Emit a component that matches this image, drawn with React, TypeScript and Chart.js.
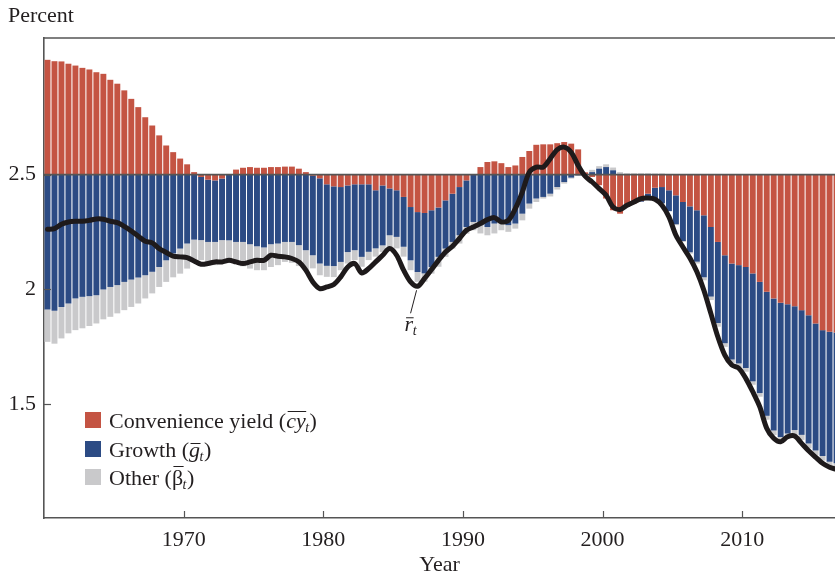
import React, { useEffect, useRef } from 'react';
import { Chart, registerables } from 'chart.js';

Chart.register(...registerables);

// ---------- data (semi-annual, starting 1960H1) ----------
const START_YEAR = 1960;
const STEP = 0.5;
const BASE = 2.5;

const convenienceYield = [
  0.500, 0.494, 0.493, 0.483, 0.475, 0.465, 0.458, 0.446, 0.439, 0.413,
  0.396, 0.367, 0.330, 0.294, 0.250, 0.214, 0.171, 0.127, 0.098, 0.070,
  0.045, 0.011, -0.010, -0.022, -0.025, -0.017, 0.003, 0.022, 0.030, 0.033,
  0.030, 0.030, 0.033, 0.033, 0.035, 0.035, 0.026, 0.011, -0.005, -0.016,
  -0.042, -0.051, -0.054, -0.047, -0.042, -0.042, -0.042, -0.068, -0.047, -0.060,
  -0.068, -0.097, -0.141, -0.163, -0.167, -0.155, -0.143, -0.112, -0.083, -0.054,
  -0.025, 0.000, 0.033, 0.055, 0.058, 0.050, 0.033, 0.040, 0.077, 0.103,
  0.130, 0.132, 0.132, 0.137, 0.142, 0.135, 0.110, 0.010, -0.010, -0.046,
  -0.104, -0.155, -0.170, -0.140, -0.125, -0.115, -0.083, -0.057, -0.054, -0.068,
  -0.090, -0.119, -0.138, -0.155, -0.177, -0.228, -0.293, -0.351, -0.387, -0.394,
  -0.402, -0.430, -0.467, -0.510, -0.539, -0.558, -0.564, -0.573, -0.590, -0.612,
  -0.648, -0.677, -0.684, -0.687,
];

const growth = [
  -0.587, -0.593, -0.576, -0.561, -0.539, -0.532, -0.529, -0.525, -0.500, -0.489,
  -0.481, -0.467, -0.457, -0.448, -0.438, -0.423, -0.402, -0.373, -0.343, -0.322,
  -0.300, -0.283, -0.275, -0.271, -0.268, -0.268, -0.286, -0.293, -0.293, -0.303,
  -0.312, -0.317, -0.303, -0.300, -0.293, -0.293, -0.307, -0.329, -0.346, -0.371,
  -0.355, -0.347, -0.326, -0.290, -0.287, -0.316, -0.294, -0.253, -0.261, -0.204,
  -0.203, -0.217, -0.232, -0.261, -0.263, -0.247, -0.215, -0.210, -0.210, -0.210,
  -0.203, -0.206, -0.220, -0.228, -0.213, -0.206, -0.220, -0.213, -0.170, -0.126,
  -0.104, -0.097, -0.083, -0.054, -0.032, -0.013, -0.003, 0.000, 0.011, 0.026,
  0.033, 0.019, 0.003, 0.000, 0.000, -0.003, -0.017, -0.055, -0.071, -0.091,
  -0.126, -0.170, -0.200, -0.224, -0.270, -0.303, -0.353, -0.383, -0.418, -0.428,
  -0.440, -0.470, -0.484, -0.540, -0.575, -0.584, -0.563, -0.539, -0.543, -0.559,
  -0.553, -0.548, -0.566, -0.570,
];

const otherFactor = [
  -0.141, -0.143, -0.137, -0.130, -0.138, -0.137, -0.130, -0.123, -0.130, -0.130,
  -0.123, -0.123, -0.119, -0.113, -0.101, -0.094, -0.087, -0.094, -0.104, -0.109,
  -0.109, -0.097, -0.087, -0.094, -0.101, -0.094, -0.099, -0.097, -0.106, -0.106,
  -0.104, -0.099, -0.099, -0.094, -0.087, -0.091, -0.091, -0.087, -0.057, -0.051,
  -0.048, -0.048, -0.036, -0.050, -0.043, -0.043, -0.036, -0.036, -0.029, -0.051,
  -0.050, -0.043, -0.043, -0.043, -0.036, -0.029, -0.043, -0.036, -0.029, -0.036,
  -0.029, -0.036, -0.036, -0.036, -0.043, -0.036, -0.029, -0.022, -0.029, -0.022,
  -0.015, -0.007, -0.012, -0.011, -0.007, -0.004, -0.002, 0.000, 0.010, 0.011,
  0.012, 0.012, 0.008, 0.006, 0.006, 0.006, 0.006, 0.005, 0.005, 0.003,
  -0.004, -0.004, -0.006, -0.008, -0.013, -0.015, -0.016, -0.016, -0.017, -0.017,
  -0.016, -0.015, -0.016, -0.017, -0.020, -0.020, -0.021, -0.022, -0.022, -0.021,
  -0.020, -0.020, -0.020, -0.021,
];

const rBar = [
  2.262, 2.265, 2.284, 2.294, 2.297, 2.297, 2.301, 2.307, 2.306, 2.297,
  2.291, 2.275, 2.255, 2.232, 2.210, 2.203, 2.178, 2.161, 2.145, 2.142,
  2.139, 2.124, 2.110, 2.113, 2.120, 2.120, 2.127, 2.120, 2.113, 2.120,
  2.127, 2.127, 2.149, 2.145, 2.142, 2.135, 2.120, 2.084, 2.033, 2.004,
  2.011, 2.022, 2.055, 2.098, 2.113, 2.072, 2.091, 2.120, 2.149, 2.178,
  2.149, 2.084, 2.033, 2.014, 2.048, 2.087, 2.127, 2.163, 2.188, 2.222,
  2.258, 2.272, 2.287, 2.304, 2.313, 2.294, 2.301, 2.352, 2.424, 2.511,
  2.533, 2.533, 2.570, 2.609, 2.620, 2.598, 2.540, 2.493, 2.468, 2.439,
  2.410, 2.359, 2.348, 2.367, 2.381, 2.396, 2.398, 2.393, 2.367, 2.316,
  2.236, 2.185, 2.137, 2.077, 1.997, 1.896, 1.794, 1.714, 1.671, 1.657,
  1.613, 1.555, 1.490, 1.396, 1.352, 1.337, 1.359, 1.362, 1.330, 1.298,
  1.270, 1.243, 1.226, 1.217,
];

const xTickYears = [1970, 1980, 1990, 2000, 2010];
const yTickValues = [1.5, 2, 2.5];
const X_MIN = 1960;
const X_MAX = 2016.64;
const Y_MIN = 1.005;
const Y_MAX = 3.095;

const RED = '#C45443';
const BLUE = '#2C4B84';
const GRAY = '#C9C9CB';
const LINE = '#1E1A1B';
const AXIS = '#555555';
const TEXT = '#231F20';
const FONT = '"Liberation Serif", "Times New Roman", serif';

const periodCenters = convenienceYield.map((_, i) => START_YEAR + i * STEP + STEP / 2);

function buildStacks() {
  const cyR: any[] = [];
  const gR: any[] = [];
  const oR: any[] = [];
  periodCenters.forEach((x, i) => {
    let pos = BASE;
    let neg = BASE;
    const parts: [number, any[]][] = [
      [convenienceYield[i], cyR],
      [growth[i], gR],
      [otherFactor[i], oR],
    ];
    parts.forEach(([v, out]) => {
      if (v >= 0) {
        out.push({ x, y: [pos, pos + v] });
        pos += v;
      } else {
        out.push({ x, y: [neg + v, neg] });
        neg += v;
      }
    });
  });
  return { cyR, gR, oR };
}

const decorPlugin = {
  id: 'decor',
  beforeDatasetDraw(chart: any, args: any) {
    if (args.index !== 0) return;
    const { ctx, chartArea } = chart;
    const ys = chart.scales.y;
    const yb = ys.getPixelForValue(BASE);
    ctx.save();
    ctx.strokeStyle = AXIS;
    ctx.lineWidth = 1.6;
    ctx.beginPath();
    ctx.moveTo(chartArea.left, yb);
    ctx.lineTo(chartArea.right, yb);
    ctx.stroke();
    ctx.restore();
  },
  afterDraw(chart: any) {
    const { ctx, chartArea } = chart;
    const xs = chart.scales.x;
    const ys = chart.scales.y;
    ctx.save();
    // top frame line
    ctx.strokeStyle = AXIS;
    ctx.lineWidth = 1.6;
    ctx.beginPath();
    ctx.moveTo(chartArea.left, chartArea.top);
    ctx.lineTo(chartArea.right, chartArea.top);
    ctx.stroke();
    // inward tick marks
    ctx.lineWidth = 1.2;
    xTickYears.forEach((v) => {
      const px = Math.round(xs.getPixelForValue(v)) + 0.5;
      ctx.beginPath();
      ctx.moveTo(px, chartArea.bottom);
      ctx.lineTo(px, chartArea.bottom - 7);
      ctx.stroke();
    });
    yTickValues.forEach((v) => {
      const py = Math.round(ys.getPixelForValue(v)) + 0.5;
      ctx.beginPath();
      ctx.moveTo(chartArea.left, py);
      ctx.lineTo(chartArea.left + 7, py);
      ctx.stroke();
    });

    // y-axis unit label
    ctx.fillStyle = TEXT;
    ctx.textBaseline = 'alphabetic';
    ctx.textAlign = 'left';
    ctx.font = `22px ${FONT}`;
    ctx.fillText('Percent', 8, 22);

    // legend
    const lx = chartArea.left + 41;
    const rows = [
      { color: RED, cy: 420 },
      { color: BLUE, cy: 449 },
      { color: GRAY, cy: 477 },
    ];
    rows.forEach((r) => {
      ctx.fillStyle = r.color;
      ctx.fillRect(lx, r.cy - 8, 16, 16);
    });
    ctx.fillStyle = TEXT;
    ctx.strokeStyle = TEXT;
    ctx.lineWidth = 1;
    const tx = lx + 24;
    const drawRow = (b: number, pre: string, sym: string, symItalic: boolean, barRise: number) => {
      let x = tx;
      ctx.font = `22px ${FONT}`;
      ctx.fillText(pre, x, b);
      x += ctx.measureText(pre).width;
      ctx.font = `${symItalic ? 'italic ' : ''}22px ${FONT}`;
      ctx.fillText(sym, x, b);
      const w = ctx.measureText(sym).width;
      ctx.beginPath();
      ctx.moveTo(x + 1.5, b - barRise + 0.5);
      ctx.lineTo(x + w + 0.5, b - barRise + 0.5);
      ctx.stroke();
      x += w;
      ctx.font = `italic 14px ${FONT}`;
      ctx.fillText('t', x - 0.5, b + 4);
      x += ctx.measureText('t').width;
      ctx.font = `22px ${FONT}`;
      ctx.fillText(')', x, b);
    };
    drawRow(rows[0].cy + 8, 'Convenience yield (', 'cy', true, 17);
    drawRow(rows[1].cy + 8, 'Growth (', 'g', true, 14);
    drawRow(rows[2].cy + 8, 'Other (', 'β', false, 19);

    // r-bar annotation
    const idx = 53;
    const ax = xs.getPixelForValue(periodCenters[idx]);
    const ay = ys.getPixelForValue(rBar[idx]);
    ctx.lineWidth = 1;
    ctx.beginPath();
    ctx.moveTo(ax - 1, ay + 4);
    ctx.lineTo(ax - 7, ay + 27);
    ctx.stroke();
    const rx = ax - 13;
    const rb = ay + 45;
    ctx.font = `italic 22px ${FONT}`;
    ctx.fillText('r', rx, rb);
    const rw = ctx.measureText('r').width;
    ctx.beginPath();
    ctx.moveTo(rx + 1.5, rb - 13.5);
    ctx.lineTo(rx + rw + 0.5, rb - 13.5);
    ctx.stroke();
    ctx.font = `italic 14px ${FONT}`;
    ctx.fillText('t', rx + rw - 0.5, rb + 4);
    ctx.restore();
  },
};

export default function App() {
  const canvasRef = useRef<HTMLCanvasElement | null>(null);

  useEffect(() => {
    document.body.style.margin = '0';
    const canvas = canvasRef.current;
    if (!canvas) return;
    const { cyR, gR, oR } = buildStacks();
    const lineData = periodCenters.map((x, i) => ({ x, y: rBar[i] }));

    const chart = new Chart(canvas, {
      type: 'bar',
      data: {
        datasets: [
          {
            type: 'line',
            label: 'r',
            data: lineData,
            borderColor: LINE,
            borderWidth: 5,
            pointRadius: 0,
            tension: 0.3,
            borderJoinStyle: 'round',
            borderCapStyle: 'round',
            order: 0,
          } as any,
          {
            label: 'Convenience yield',
            data: cyR,
            backgroundColor: RED,
            grouped: false,
            barPercentage: 1,
            categoryPercentage: 0.85,
            order: 1,
          } as any,
          {
            label: 'Growth',
            data: gR,
            backgroundColor: BLUE,
            grouped: false,
            barPercentage: 1,
            categoryPercentage: 0.85,
            order: 1,
          } as any,
          {
            label: 'Other',
            data: oR,
            backgroundColor: GRAY,
            grouped: false,
            barPercentage: 1,
            categoryPercentage: 0.85,
            order: 1,
          } as any,
        ],
      },
      options: {
        responsive: false,
        animation: false,
        layout: { padding: { top: 38, right: 0, left: 0, bottom: 0 } },
        plugins: {
          legend: { display: false },
          tooltip: { enabled: false },
        },
        scales: {
          x: {
            type: 'linear',
            min: X_MIN,
            max: X_MAX,
            offset: false,
            grid: { display: false, drawTicks: false },
            border: { display: true, color: AXIS, width: 1.6 },
            afterBuildTicks: (scale: any) => {
              scale.ticks = xTickYears.map((v) => ({ value: v }));
            },
            afterFit: (scale: any) => {
              scale.height = 60;
            },
            ticks: {
              autoSkip: false,
              maxRotation: 0,
              padding: 9,
              color: TEXT,
              font: { family: FONT, size: 22 },
              callback: (v: any) => String(v),
            },
            title: {
              display: true,
              text: 'Year',
              color: TEXT,
              font: { family: FONT, size: 22 },
              padding: { top: 0, bottom: 0 },
            },
          },
          y: {
            type: 'linear',
            min: Y_MIN,
            max: Y_MAX,
            grid: { display: false, drawTicks: false },
            border: { display: true, color: AXIS, width: 1.6 },
            afterBuildTicks: (scale: any) => {
              scale.ticks = yTickValues.map((v) => ({ value: v }));
            },
            afterFit: (scale: any) => {
              scale.width = 44;
            },
            ticks: {
              padding: 8,
              color: TEXT,
              font: { family: FONT, size: 22 },
              callback: (v: any) => String(v),
            },
          },
        },
      } as any,
      plugins: [decorPlugin],
    });

    return () => chart.destroy();
  }, []);

  return (
    <div style={{ width: 835, height: 578 }}>
      <canvas ref={canvasRef} width={835} height={578} style={{ display: 'block' }} />
    </div>
  );
}
